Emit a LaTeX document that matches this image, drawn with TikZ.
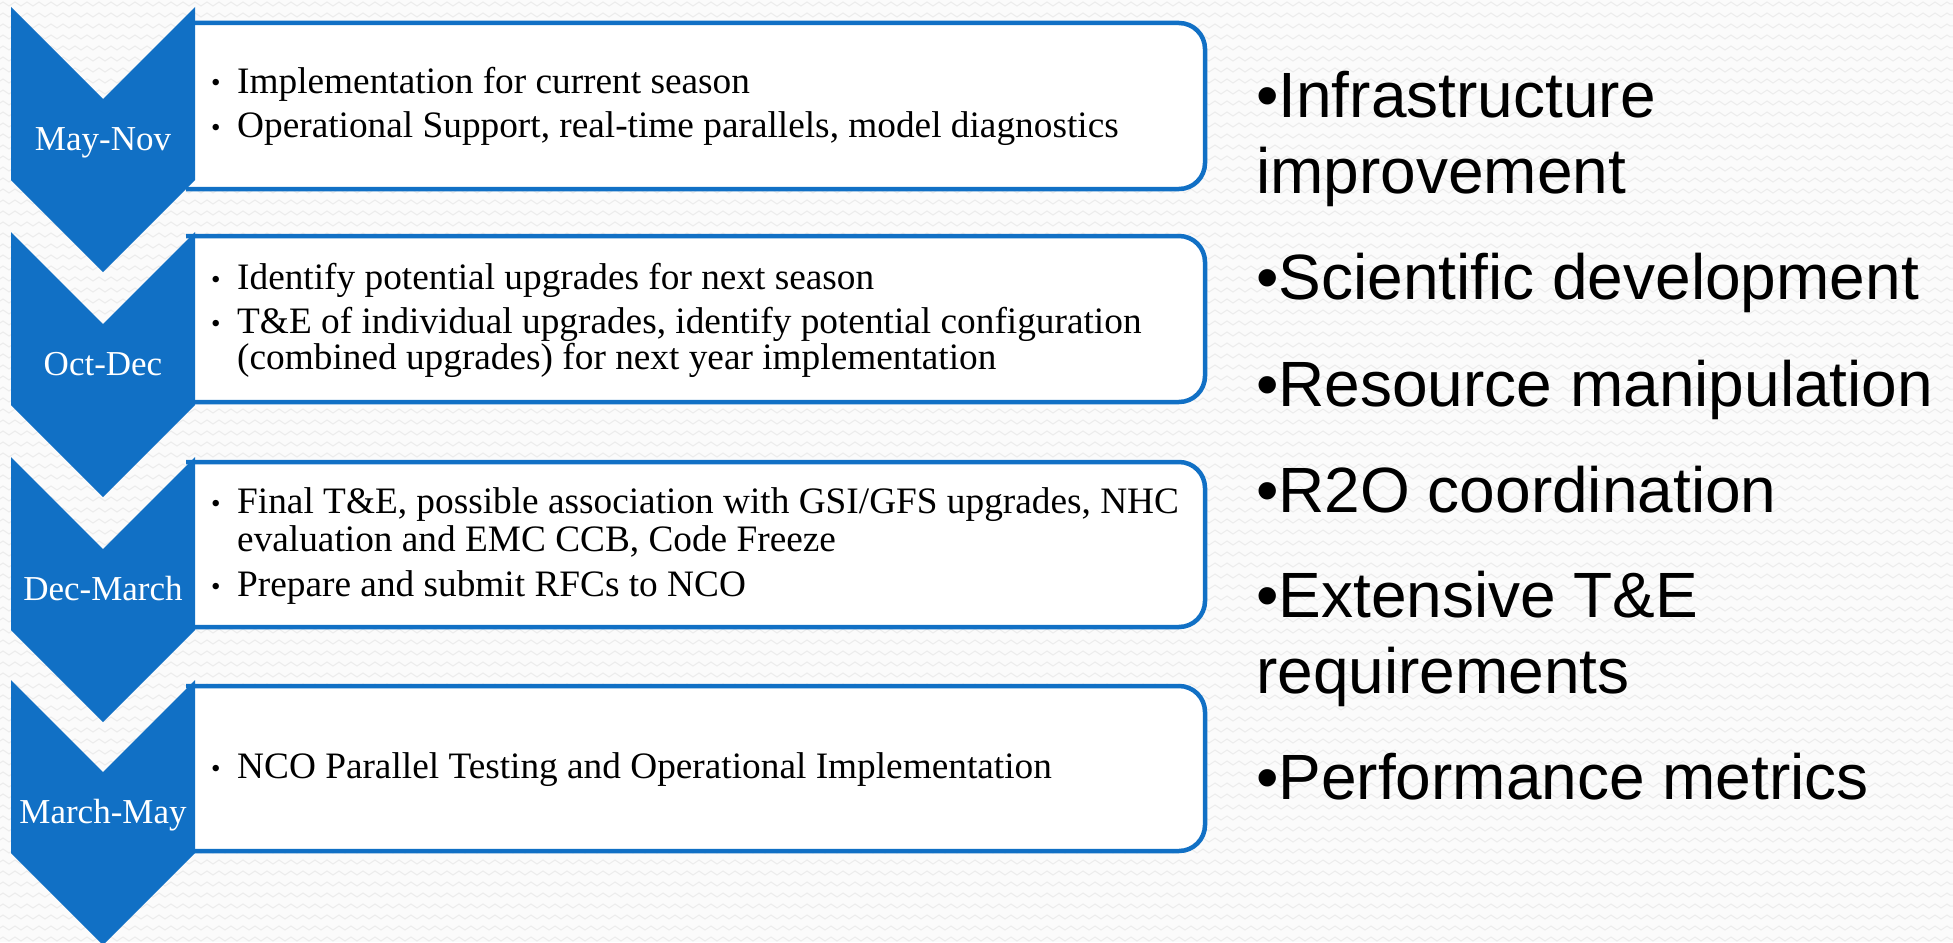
\documentclass[tikz,border=0pt]{standalone}
\usepackage{fontspec}
\setmainfont{Liberation Serif}
\newfontfamily\listfont{Liberation Sans}
\usetikzlibrary{decorations.pathmorphing}
\definecolor{stageblue}{RGB}{17,112,197}
\definecolor{paper}{RGB}{251,251,251}
\definecolor{weave}{RGB}{236,236,236}

\begin{document}
\begin{tikzpicture}[x=1pt,y=-1pt,
  stagebox/.style={draw=stageblue, line width=4.5pt, fill=white, rounded corners=26pt},
  chevron/.style={fill=stageblue},
  stagelabel/.style={text=white, font=\fontsize{35}{41}\selectfont, anchor=base, inner sep=0pt},
  item/.style={font=\fontsize{37.3}{43}\selectfont, anchor=base west, inner sep=0pt},
  dot/.style={font=\fontsize{27}{32}\selectfont, anchor=base west, inner sep=0pt, yshift=1pt},
  theme/.style={font=\listfont\fontsize{64}{76}\selectfont, anchor=base west, inner sep=0pt}]

\useasboundingbox (0,0) rectangle (1953,942);

% textured slide background
\fill[paper] (0,0) rectangle (1953,942);
\foreach \r in {0,...,86}
  \draw[weave, line width=1pt, decorate,
        decoration={zigzag, segment length=12pt, amplitude=2pt}]
        (0,\r*11+4) -- (1953,\r*11+4);

% white text panels; their left ends run under the chevrons
\begin{scope}
  \clip (186,0) rectangle (1300,942);
  \foreach \top/\bot in {23/189, 236/402, 462/627, 686/851}
    \draw[stagebox] (120,\top) rectangle (1205,\bot);
\end{scope}

% downward chevrons
\foreach \t in {7, 232, 457, 680}
  \fill[chevron] (11,\t) -- (103,\t+92) -- (195,\t) -- (195,\t+173)
                 -- (103,\t+265) -- (11,\t+173) -- cycle;

% period labels
\node[stagelabel] (l1) at (103,150) {May-Nov};
\node[stagelabel] (l2) at (103,375) {Oct-Dec};
\node[stagelabel] (l3) at (103,600) {Dec-March};
\node[stagelabel] (l4) at (103,823) {March-May};

% panel 1
\node[dot]  (b1a) at (211,93)  {\textbullet};
\node[item] (t1a) at (237,93)  {Implementation for current season};
\node[dot]  (b1b) at (211,137) {\textbullet};
\node[item] (t1b) at (237,137) {Operational Support, real-time parallels, model diagnostics};

% panel 2
\node[dot]  (b2a) at (211,289) {\textbullet};
\node[item] (t2a) at (237,289) {Identify potential upgrades for next season};
\node[dot]  (b2b) at (211,333) {\textbullet};
\node[item] (t2b) at (237,333) {T\&E of individual upgrades, identify potential configuration};
\node[item] (t2c) at (237,369) {(combined upgrades) for next year implementation};

% panel 3
\node[dot]  (b3a) at (211,513) {\textbullet};
\node[item] (t3a) at (237,513) {Final T\&E, possible association with GSI/GFS upgrades, NHC};
\node[item] (t3b) at (237,551) {evaluation and EMC CCB, Code Freeze};
\node[dot]  (b3c) at (211,596) {\textbullet};
\node[item] (t3c) at (237,596) {Prepare and submit RFCs to NCO};

% panel 4
\node[dot]  (b4a) at (211,778) {\textbullet};
\node[item] (t4a) at (237,778) {NCO Parallel Testing and Operational Implementation};

% themes list
\node[theme] (r1a) at (1256,117) {\textbullet Infrastructure};
\node[theme] (r1b) at (1256,193) {improvement};
\node[theme] (r2)  at (1256,299) {\textbullet Scientific development};
\node[theme] (r3)  at (1256,406) {\textbullet Resource manipulation};
\node[theme] (r4)  at (1256,512) {\textbullet R2O coordination};
\node[theme] (r5a) at (1256,617) {\textbullet Extensive T\&E};
\node[theme] (r5b) at (1256,693) {requirements};
\node[theme] (r6)  at (1256,799) {\textbullet Performance metrics};
\end{tikzpicture}
\end{document}
